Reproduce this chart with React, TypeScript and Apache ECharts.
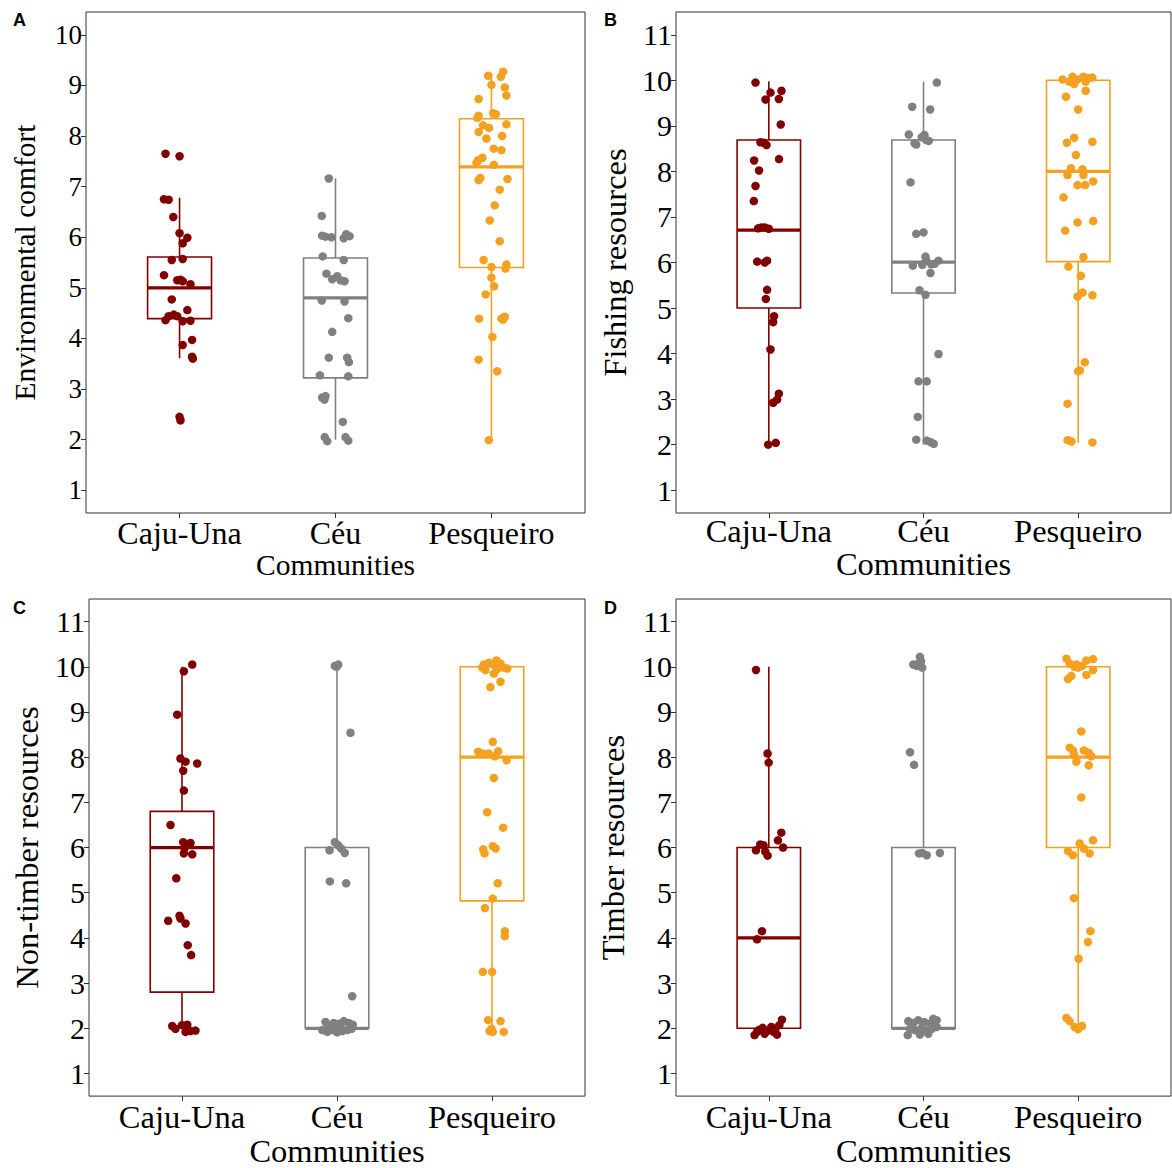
import React, { useEffect, useRef } from "react";
import * as echarts from "echarts";

const communities = ["Caju-Una", "Céu", "Pesqueiro"];
const groupColors = ["#800000", "#808080", "#F4A020"];
const yTicks10 = [1, 2, 3, 4, 5, 6, 7, 8, 9, 10];
const yTicks11 = [1, 2, 3, 4, 5, 6, 7, 8, 9, 10, 11];
const xTicks = [1, 2, 3];

// box stats per group: [lowerWhisker, Q1, median, Q3, upperWhisker]
const envBoxes = [
  [3.61, 4.39, 5.0, 5.61, 6.78],
  [2.0, 3.22, 4.8, 5.59, 7.16],
  [1.99, 5.4, 7.39, 8.34, 9.25],
];
const fishBoxes = [
  [2.0, 5.0, 6.71, 8.69, 9.98],
  [2.0, 5.33, 6.01, 8.69, 9.97],
  [2.04, 6.02, 8.0, 10.0, 10.0],
];
const nonTimberBoxes = [
  [2.0, 2.8, 6.0, 6.8, 10.0],
  [2.0, 2.0, 2.0, 6.0, 10.0],
  [2.0, 4.82, 8.0, 10.0, 10.0],
];
const timberBoxes = [
  [2.0, 2.0, 4.0, 6.0, 10.0],
  [2.0, 2.0, 2.0, 6.0, 10.0],
  [2.0, 6.0, 8.0, 10.0, 10.0],
];

// jittered points [x, value]
const envCaju = [[0.91,7.65],[1.0,7.6],[0.9,6.75],[0.93,6.74],[0.96,6.4],[1.0,6.08],[1.05,5.99],[1.02,5.88],[0.95,5.55],[1.02,5.57],[0.9,5.25],[0.985,5.15],[1.006,5.16],[1.02,5.13],[1.07,5.07],[0.95,4.77],[1.05,4.56],[0.91,4.36],[0.93,4.44],[0.963,4.47],[0.985,4.44],[1.02,4.34],[1.07,4.35],[1.08,3.97],[1.02,3.87],[1.08,3.64],[1.085,3.6],[1.0,2.45],[1.006,2.38]];
const envCeu = [[1.957,7.16],[1.912,6.42],[1.914,6.03],[1.936,6.01],[1.974,6.0],[2.053,5.98],[2.069,6.06],[2.09,6.02],[1.918,5.62],[2.053,5.55],[1.942,5.28],[1.979,5.17],[2.011,5.23],[2.032,5.15],[2.058,5.13],[1.912,4.75],[2.058,4.73],[2.082,4.4],[1.979,4.13],[1.957,3.62],[2.075,3.62],[2.086,3.53],[1.9,3.27],[2.082,3.25],[1.914,2.83],[1.929,2.79],[1.936,2.86],[2.047,2.35],[1.931,2.05],[1.947,1.97],[2.064,2.05],[2.082,1.98]];
const envPesq = [[2.979,9.19],[3.075,9.27],[3.06,9.17],[3.0,9.01],[3.086,8.96],[2.918,8.73],[3.096,8.8],[2.918,8.4],[2.91,8.36],[3.011,8.45],[3.028,8.43],[2.947,8.21],[2.985,8.16],[3.096,8.23],[2.918,8.08],[2.968,7.95],[3.069,8.0],[3.015,7.75],[3.064,7.72],[2.942,7.57],[2.914,7.52],[2.904,7.47],[3.015,7.43],[2.918,7.13],[2.929,7.17],[3.103,7.15],[3.053,6.94],[3.021,6.63],[2.989,6.33],[3.053,5.92],[2.95,5.55],[3.0,5.41],[3.096,5.46],[3.09,5.38],[3.0,5.2],[3.017,5.03],[2.963,4.87],[2.921,4.39],[3.064,4.39],[3.086,4.43],[3.075,4.37],[3.006,4.03],[2.918,3.58],[3.037,3.35],[2.983,1.99]];

const fishCaju = [[0.914,9.95],[1.011,9.73],[1.082,9.77],[0.979,9.58],[1.065,9.59],[1.077,9.03],[0.946,8.64],[0.968,8.63],[0.985,8.58],[0.905,8.24],[1.066,8.27],[0.937,8.02],[0.914,7.68],[0.903,7.35],[0.931,6.75],[0.953,6.77],[0.974,6.77],[1.0,6.74],[0.925,6.02],[0.974,6.0],[0.989,6.04],[0.989,5.4],[0.981,5.2],[1.034,4.82],[1.028,4.69],[1.011,4.09],[1.065,3.12],[1.054,2.99],[1.028,2.92],[0.996,2.0],[1.045,2.04]];
const fishCeu = [[2.086,9.95],[1.927,9.42],[2.043,9.36],[1.905,8.81],[1.942,8.62],[1.953,8.59],[1.989,8.75],[2.006,8.8],[2.017,8.69],[2.034,8.67],[1.916,7.76],[1.953,6.63],[2.0,6.66],[2.013,6.13],[1.931,5.93],[1.992,5.95],[2.05,5.96],[2.071,5.97],[2.097,6.04],[2.017,6.04],[2.045,5.77],[1.974,5.39],[2.013,5.29],[2.097,3.99],[1.968,3.39],[2.021,3.39],[1.963,2.61],[1.953,2.11],[2.021,2.09],[2.045,2.06],[2.066,2.02]];
const fishPesq = [[2.899,10.02],[2.942,9.97],[2.963,10.08],[2.978,9.97],[2.996,10.02],[3.034,10.08],[3.049,9.97],[3.065,10.05],[3.092,10.06],[2.974,9.92],[3.049,9.77],[2.921,9.64],[3.0,9.36],[2.927,8.63],[2.974,8.74],[3.092,8.65],[2.985,8.36],[2.953,8.07],[2.931,7.92],[3.028,8.05],[3.034,7.92],[2.996,7.7],[3.045,7.7],[3.097,7.78],[2.905,7.43],[2.996,6.88],[3.097,6.91],[2.916,6.7],[3.034,6.12],[2.937,5.91],[3.017,5.71],[3.028,5.34],[2.996,5.25],[3.092,5.28],[3.043,3.81],[3.011,3.63],[3.0,3.61],[2.931,2.9],[2.931,2.1],[2.957,2.07],[3.092,2.05]];

const nonTimberCaju = [[1.066,10.05],[1.012,9.9],[0.969,8.94],[0.99,7.97],[1.023,7.9],[1.098,7.86],[1.008,7.7],[1.012,7.26],[0.926,6.5],[1.008,6.12],[1.055,6.1],[1.016,5.99],[1.012,5.87],[1.066,5.85],[0.963,5.32],[0.984,4.49],[0.99,4.43],[0.911,4.38],[1.023,4.32],[1.037,3.84],[1.059,3.62],[0.937,2.05],[0.958,1.99],[1.0,2.07],[1.034,2.08],[1.023,1.92],[1.055,1.94],[1.087,1.95]];
const nonTimberCeu = [[1.986,10.02],[2.008,10.05],[1.997,10.0],[2.087,8.54],[1.986,6.12],[2.008,6.05],[1.952,5.94],[2.027,5.98],[2.05,5.88],[1.954,5.25],[2.059,5.21],[2.098,2.71],[1.926,2.14],[1.947,2.07],[1.979,2.12],[2.012,2.1],[2.044,2.16],[2.076,2.12],[2.102,2.08],[1.905,1.96],[1.937,1.92],[1.969,1.96],[2.001,1.91],[2.034,1.94],[2.066,1.96],[2.094,1.99],[1.958,2.03],[2.023,2.03]];
const nonTimberPesq = [[2.947,10.05],[2.979,10.09],[3.012,10.04],[3.029,10.14],[3.055,10.07],[3.076,9.98],[3.098,9.96],[2.958,9.93],[3.012,9.85],[3.055,9.67],[2.99,9.55],[2.937,9.98],[3.034,9.95],[3.005,8.34],[2.911,8.12],[2.941,8.08],[2.979,8.08],[3.04,8.13],[3.018,8.02],[3.094,7.93],[3.012,7.54],[2.969,6.78],[3.072,6.44],[2.943,5.96],[2.952,5.87],[3.005,6.03],[3.023,5.98],[3.037,5.21],[3.005,4.87],[2.954,4.66],[3.083,4.15],[3.083,4.04],[2.941,3.25],[3.001,3.25],[2.975,2.18],[3.055,2.16],[2.997,1.99],[3.005,1.92],[3.076,1.92],[2.984,1.94]];

const timberCaju = [[0.917,9.93],[0.992,8.08],[0.999,7.88],[1.081,6.33],[1.059,6.16],[0.945,6.07],[0.966,6.05],[1.092,6.0],[0.917,5.94],[0.977,5.91],[0.992,5.82],[0.956,4.15],[0.924,3.97],[0.908,1.85],[0.934,1.96],[0.96,2.01],[0.988,1.94],[1.016,2.03],[1.031,1.92],[1.053,1.86],[1.085,2.19],[1.068,2.07],[0.924,1.92],[0.973,1.88],[1.042,1.99]];
const timberCeu = [[1.977,10.22],[1.984,10.12],[1.934,10.05],[1.956,10.02],[1.992,9.98],[1.966,10.07],[1.913,8.11],[1.939,7.83],[1.971,5.87],[1.992,5.88],[2.021,5.83],[2.106,5.88],[1.902,2.16],[1.934,2.12],[1.966,2.18],[2.005,2.14],[2.042,2.1],[2.063,2.21],[2.085,2.18],[1.913,1.99],[1.945,1.96],[1.988,2.01],[2.021,1.94],[2.053,1.99],[2.085,2.03],[1.898,1.85],[1.977,1.86],[2.031,1.88]];
const timberPesq = [[2.924,10.18],[2.945,10.07],[2.977,10.0],[2.999,9.98],[3.025,10.02],[3.053,10.14],[3.096,10.17],[3.096,9.93],[2.934,9.73],[2.956,9.8],[3.053,9.82],[2.988,10.05],[3.02,8.57],[2.945,8.21],[2.966,8.15],[2.973,8.06],[3.037,8.15],[3.068,8.1],[3.085,8.02],[2.988,7.9],[3.068,7.82],[3.02,7.11],[3.096,6.16],[3.01,6.09],[2.934,5.92],[2.966,5.83],[3.037,5.98],[3.074,5.87],[2.973,4.88],[3.079,4.15],[3.063,3.91],[3.003,3.54],[2.924,2.23],[2.945,2.16],[2.977,2.03],[2.999,1.98],[3.025,2.05]];

const SERIF = "'Liberation Serif', 'Times New Roman', serif";
const BOX_W = 0.41;

type Panel = {
  letter: string;
  title: string;
  grid: { left: number; top: number; width: number; height: number };
  yMin: number;
  yMax: number;
  yTicks: number[];
  boxes: number[][];
  points: number[][][];
  tickSize: number;
  catSize: number;
  nameSize: number;
  yNameSize: number;
  yNameGap: number;
  xNameGap: number;
  catMargin: number;
  letterPos: [number, number];
};

const panels: Panel[] = [
  {
    letter: "A", title: "Environmental comfort",
    grid: { left: 86, top: 12, width: 499, height: 501 },
    yMin: 0.55, yMax: 10.45, yTicks: yTicks10,
    boxes: envBoxes, points: [envCaju, envCeu, envPesq],
    tickSize: 27, catSize: 32, nameSize: 29.5, yNameSize: 29.5, yNameGap: 46, xNameGap: 36, catMargin: 4,
    letterPos: [13, 11],
  },
  {
    letter: "B", title: "Fishing resources",
    grid: { left: 676, top: 12, width: 495, height: 501 },
    yMin: 0.5, yMax: 11.5, yTicks: yTicks11,
    boxes: fishBoxes, points: [fishCaju, fishCeu, fishPesq],
    tickSize: 30, catSize: 32.5, nameSize: 32.5, yNameSize: 32.5, yNameGap: 45, xNameGap: 30, catMargin: 1,
    letterPos: [604, 11],
  },
  {
    letter: "C", title: "Non-timber resources",
    grid: { left: 89, top: 599, width: 496, height: 501 },
    yMin: 0.5, yMax: 11.5, yTicks: yTicks11,
    boxes: nonTimberBoxes, points: [nonTimberCaju, nonTimberCeu, nonTimberPesq],
    tickSize: 30, catSize: 32.5, nameSize: 32.5, yNameSize: 32.5, yNameGap: 46, xNameGap: 33, catMargin: 4,
    letterPos: [13, 599],
  },
  {
    letter: "D", title: "Timber resources",
    grid: { left: 676, top: 599, width: 495, height: 501 },
    yMin: 0.5, yMax: 11.5, yTicks: yTicks11,
    boxes: timberBoxes, points: [timberCaju, timberCeu, timberPesq],
    tickSize: 30, catSize: 32.5, nameSize: 32.5, yNameSize: 32.5, yNameGap: 47, xNameGap: 33, catMargin: 4,
    letterPos: [604, 599],
  },
];

function buildOption() {
  const grid: any[] = [];
  const xAxis: any[] = [];
  const yAxis: any[] = [];
  const series: any[] = [];
  const graphic: any[] = [];

  panels.forEach((p, i) => {
    grid.push({
      ...p.grid,
      show: true,
      borderColor: "#333333",
      borderWidth: 1,
      backgroundColor: "#ffffff",
      containLabel: false,
    });
    xAxis.push({
      type: "value",
      gridIndex: i,
      min: 0.4,
      max: 3.6,
      name: "Communities",
      nameLocation: "middle",
      nameGap: p.xNameGap,
      nameTextStyle: { fontFamily: SERIF, fontSize: p.nameSize, color: "#000" },
      axisLine: { show: false },
      splitLine: { show: false },
      axisTick: { show: true, customValues: xTicks, length: 5, lineStyle: { color: "#333" } },
      axisLabel: {
        customValues: xTicks,
        formatter: (v: number) => communities[Math.round(v) - 1] ?? "",
        fontFamily: SERIF,
        fontSize: p.catSize,
        color: "#000",
        margin: p.catMargin,
      },
    });
    yAxis.push({
      type: "value",
      gridIndex: i,
      min: p.yMin,
      max: p.yMax,
      name: p.title,
      nameLocation: "middle",
      nameGap: p.yNameGap,
      nameTextStyle: { fontFamily: SERIF, fontSize: p.yNameSize, color: "#000" },
      axisLine: { show: false },
      splitLine: { show: false },
      axisTick: { show: true, customValues: p.yTicks, length: 5, lineStyle: { color: "#333" } },
      axisLabel: {
        customValues: p.yTicks,
        fontFamily: SERIF,
        fontSize: p.tickSize,
        color: "#000",
        margin: 4,
      },
    });

    series.push({
      type: "custom",
      xAxisIndex: i,
      yAxisIndex: i,
      z: 2,
      silent: true,
      encode: { x: 0, y: [1, 2, 3, 4, 5] },
      data: p.boxes.map((b, gi) => [gi + 1, ...b, gi]),
      renderItem: (_params: any, api: any) => {
        const x = api.value(0);
        const lo = api.value(1);
        const q1 = api.value(2);
        const med = api.value(3);
        const q3 = api.value(4);
        const hi = api.value(5);
        const color = groupColors[api.value(6)];
        const half = api.size([BOX_W, 0])[0] / 2;
        const pLo = api.coord([x, lo]);
        const pQ1 = api.coord([x, q1]);
        const pMed = api.coord([x, med]);
        const pQ3 = api.coord([x, q3]);
        const pHi = api.coord([x, hi]);
        const lw = 1.6;
        return {
          type: "group",
          children: [
            { type: "line", shape: { x1: pHi[0], y1: pHi[1], x2: pQ3[0], y2: pQ3[1] }, style: { stroke: color, lineWidth: lw } },
            { type: "line", shape: { x1: pQ1[0], y1: pQ1[1], x2: pLo[0], y2: pLo[1] }, style: { stroke: color, lineWidth: lw } },
            { type: "rect", shape: { x: pQ3[0] - half, y: pQ3[1], width: half * 2, height: Math.max(pQ1[1] - pQ3[1], 0) }, style: { fill: "#ffffff", stroke: color, lineWidth: lw } },
            { type: "line", shape: { x1: pMed[0] - half, y1: pMed[1], x2: pMed[0] + half, y2: pMed[1] }, style: { stroke: color, lineWidth: 3.2 } },
          ],
        };
      },
    });

    p.points.forEach((pts, gi) => {
      series.push({
        type: "scatter",
        name: communities[gi],
        xAxisIndex: i,
        yAxisIndex: i,
        z: 3,
        symbol: "circle",
        symbolSize: 8.5,
        itemStyle: { color: groupColors[gi], opacity: 1 },
        data: pts,
      });
    });

    graphic.push({
      type: "text",
      left: p.letterPos[0],
      top: p.letterPos[1],
      style: {
        text: p.letter,
        font: "bold 18px 'Liberation Sans', Arial, sans-serif",
        fill: "#000",
      },
    });
  });

  return {
    animation: false,
    backgroundColor: "#ffffff",
    grid,
    xAxis,
    yAxis,
    series,
    graphic,
  };
}

export default function App() {
  const ref = useRef<HTMLDivElement>(null);
  useEffect(() => {
    if (!ref.current) return;
    const chart = echarts.init(ref.current, undefined, { renderer: "svg" });
    chart.setOption(buildOption());
    return () => chart.dispose();
  }, []);
  return (
    <div
      ref={ref}
      style={{ position: "absolute", left: 0, top: 0, width: 1172, height: 1168 }}
    />
  );
}
